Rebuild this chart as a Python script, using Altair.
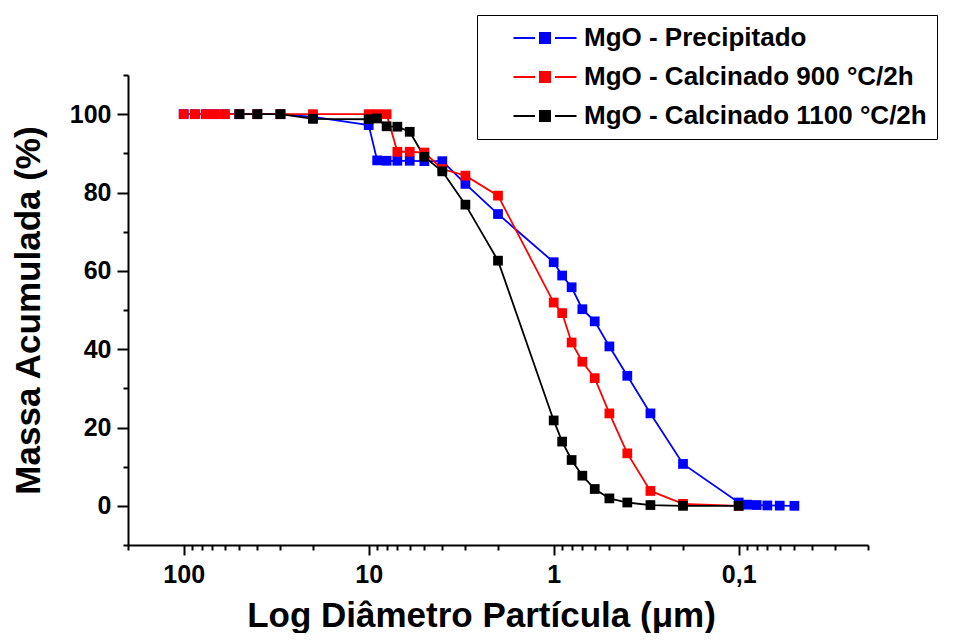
import altair as alt
import pandas as pd

series_names = ["MgO - Precipitado", "MgO - Calcinado 900 °C/2h", "MgO - Calcinado 1100 °C/2h"]
series_colors = ["#0000ff", "#ff0000", "#000000"]

precip_d = [100, 87, 76, 68, 60, 50, 40, 30, 20, 10, 9, 8, 7, 6, 5, 4, 3, 2,
            1, 0.9, 0.8, 0.7, 0.6, 0.5, 0.4, 0.3, 0.2, 0.1, 0.09, 0.08, 0.07, 0.06, 0.05]
precip_v = [100, 100, 100, 100, 100, 100, 100, 100, 99.3, 97.2, 88.2, 88.1, 88.1, 88.1, 88.0, 88.0, 82.2, 74.5,
            62.2, 58.8, 55.8, 50.2, 47.1, 40.7, 33.2, 23.6, 10.7, 0.85, 0.3, 0.2, 0.1, 0.05, 0.0]

calc900_d = [100, 87, 76, 68, 60, 50, 40, 30, 20, 10, 9, 8, 7, 6, 5, 4, 3, 2,
             1, 0.9, 0.8, 0.7, 0.6, 0.5, 0.4, 0.3, 0.2, 0.1]
calc900_v = [100, 100, 100, 100, 100, 100, 100, 100, 100, 100, 100, 100, 90.4, 90.4, 90.2, 86.0, 84.3, 79.2,
             51.9, 49.2, 41.7, 36.8, 32.6, 23.6, 13.4, 3.8, 0.5, 0.0]

calc1100_d = [50, 40, 30, 20, 10, 9, 8, 7, 6, 5, 4, 3, 2,
              1, 0.9, 0.8, 0.7, 0.6, 0.5, 0.4, 0.3, 0.2, 0.1]
calc1100_v = [100, 100, 100, 98.8, 98.7, 98.9, 96.9, 96.8, 95.5, 89.1, 85.4, 76.9, 62.6,
              21.8, 16.4, 11.7, 7.7, 4.3, 1.9, 0.85, 0.2, 0.0, 0.0]

x_major = [100, 10, 1, 0.1]
y_major = [0, 20, 40, 60, 80, 100]

rows = []
for name, ds, vs in zip(series_names, [precip_d, calc900_d, calc1100_d], [precip_v, calc900_v, calc1100_v]):
    for d, v in zip(ds, vs):
        rows.append({"series": name, "d": d, "v": v})
df = pd.DataFrame(rows)

x_ticks = []
for e in [-2, -1, 0, 1, 2]:
    for k in range(1, 10):
        t = round(k * 10 ** e, 6)
        if 0.02 <= t <= 200:
            x_ticks.append(t)
y_ticks = list(range(-10, 111, 10))

FONT = "Liberation Sans"

x_major_test = " || ".join(f"datum.value == {m}" for m in x_major)
y_major_test = " || ".join(f"datum.value == {m}" for m in y_major)

x_axis = alt.Axis(
    values=x_ticks,
    labelExpr=f"({x_major_test}) ? replace(format(datum.value, ''), '.', ',') : ''",
    tickSize={"condition": {"test": x_major_test, "value": 10}, "value": 5},
    labelPadding=7,
    labelOverlap=False,
    labelFlush=False,
    grid=False,
    title="Log Diâmetro Partícula (μm)",
    titleX=353,
    titleY=81,
    titleAnchor="start",
    titleAlign="center",
    titleBaseline="alphabetic",
)

y_axis = alt.Axis(
    values=y_ticks,
    labelExpr=f"({y_major_test}) ? format(datum.value, 'd') : ''",
    tickSize={"condition": {"test": y_major_test, "value": 11}, "value": 5},
    labelPadding=6,
    labelOverlap=False,
    labelFlush=False,
    grid=False,
    title="Massa Acumulada (%)",
    titleX=-100,
    titleY=235,
    titleAngle=-90,
    titleAlign="center",
    titleBaseline="middle",
)

x_enc = alt.X("d:Q", scale=alt.Scale(type="log", domain=[0.02, 200], reverse=True, nice=False), axis=x_axis)
y_enc = alt.Y("v:Q", scale=alt.Scale(domain=[-10, 110], nice=False, zero=False), axis=y_axis)

legend_path = "M-3.15,0L-1,0M1,0L3.15,0M-0.5,-0.5L0.5,-0.5L0.5,0.5L-0.5,0.5Z"
leg = alt.Legend(
    title=None,
    orient="none",
    legendX=349,
    legendY=-60,
    padding=10,
    rowPadding=13,
    strokeColor="black",
    symbolType=legend_path,
    symbolSize=400,
    symbolStrokeWidth=2,
    symbolOffset=45,
    labelOffset=26,
    labelFont=FONT,
    labelFontSize=26,
    labelFontWeight="bold",
    labelColor="black",
    labelLimit=600,
)

color_scale = alt.Scale(domain=series_names, range=series_colors)

lines = alt.Chart(df).mark_line(strokeWidth=1.8).encode(
    x=x_enc, y=y_enc,
    stroke=alt.Stroke("series:N", scale=color_scale, legend=leg, sort=series_names),
    order=alt.Order("d:Q"),
)
points = alt.Chart(df).mark_point(shape="square", filled=True, size=95, opacity=1).encode(
    x=x_enc, y=y_enc,
    fill=alt.Fill("series:N", scale=color_scale, legend=leg, sort=series_names),
)

chart = alt.layer(lines, points).properties(
    width=740,
    height=470,
    autosize=alt.AutoSizeParams(type="none"),
    padding={"left": 120, "top": 67, "right": 77, "bottom": 88},
).configure_view(stroke=None).configure_axis(
    domainColor="black",
    domainWidth=2,
    tickColor="black",
    tickWidth=2,
    labelFont=FONT,
    labelFontSize=25,
    labelFontWeight="bold",
    labelColor="black",
    titleFont=FONT,
    titleFontSize=35,
    titleFontWeight="bold",
    titleColor="black",
)

chart.save("out.html", embed_options={"renderer": "svg", "actions": False})
